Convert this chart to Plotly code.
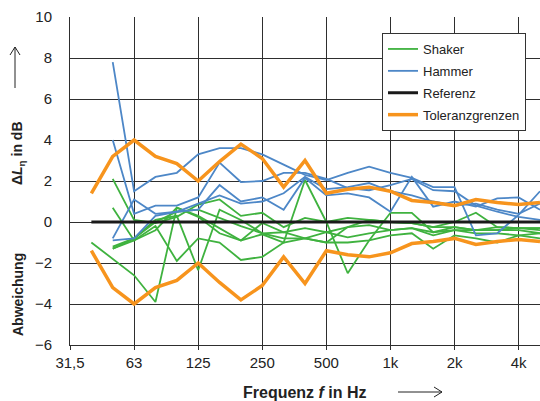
import plotly.graph_objects as go

# Third-octave band centre frequencies (category axis)
freqs = ["31,5", "40", "50", "63", "80", "100", "125", "160", "200", "250", "315", "400",
         "500", "630", "800", "1k", "1,25k", "1,6k", "2k", "2,5k", "3,15k", "4k", "5k"]
tick_labels = ["31,5", "63", "125", "250", "500", "1k", "2k", "4k"]

# Shaker curves (dB)
shaker_1 = [None, -1.0, -1.8, -2.6, -3.9, 0.7, 0.3, -0.3, -0.9, -0.6, -1.0, 2.05, 0.0, -2.5, -0.9, 0.45, 0.45, -0.5, -0.4, -0.4, -0.25, -0.3, -0.3]
shaker_2 = [None, None, 2.1, 0.1, -0.05, 0.25, 0.85, 1.1, 0.3, 0.45, -0.25, 0.2, 0.0, 0.2, 0.1, 0.0, -0.05, -0.25, 0.0, 0.45, -0.25, -0.3, -0.3]
shaker_3 = [None, None, 0.7, -0.9, -0.4, 0.7, 0.25, -0.55, -0.9, -0.05, -0.5, -0.3, -0.5, -0.25, -0.15, -0.4, -0.3, -0.5, -0.25, -0.4, -0.4, -0.4, -0.55]
shaker_4 = [None, None, -1.3, -0.9, -0.2, -1.9, -0.8, -1.0, -1.85, -1.7, -1.0, -0.8, -1.0, -1.0, -0.9, -0.65, -0.55, -1.3, -0.65, -0.8, -1.0, -0.65, -0.8]
shaker_5 = [None, None, -1.2, -0.8, 0.1, 0.3, -2.35, 0.6, 0.1, -0.55, -0.5, -0.8, -0.5, -0.75, -0.55, -0.4, -0.3, -0.65, -0.4, -0.55, -0.55, -0.65, -0.55]
shaker_6 = [None, None, -1.3, -0.8, 0.0, 0.5, 0.6, 0.2, -0.2, -0.55, -0.8, -0.8, -1.0, -0.25, 0.1, 0.0, -0.05, -0.25, -0.25, -0.4, -0.4, -0.3, -0.4]

# Hammer curves (dB)
hammer_1 = [None, None, 7.8, 1.5, 2.2, 2.4, 3.3, 3.6, 3.6, 3.3, 2.8, 2.3, 2.05, 2.4, 2.7, 2.4, 2.15, 1.7, 1.7, -0.65, -0.55, 0.35, 1.5]
hammer_2 = [None, None, 4.0, 0.4, 0.8, 0.8, 1.2, 2.9, 1.95, 2.0, 2.4, 2.4, 2.1, 1.65, 1.55, 1.8, 2.1, 1.55, 1.5, 0.8, 0.5, 0.25, 0.1]
hammer_3 = [None, None, -0.9, -0.8, 0.3, 0.5, 0.6, 1.8, 1.0, 1.2, 0.6, 2.15, 1.3, 1.4, 1.2, 0.5, 2.2, 0.75, 1.0, 0.75, 1.15, 1.2, 0.6]
hammer_4 = [None, None, -0.8, 1.1, 0.4, 0.5, 0.9, 1.3, 0.9, 1.0, 1.4, 2.2, 1.6, 1.7, 1.9, 1.5, 1.3, 1.0, 0.8, 0.9, 0.6, 0.4, 0.9]

# Reference and tolerance limits (dB)
reference = [None] + [0.0] * 22
tolerance = [None, 1.4, 3.2, 4.0, 3.2, 2.85, 2.0, 2.95, 3.8, 3.1, 1.7, 3.0, 1.4, 1.6, 1.7, 1.5,
             1.05, 0.95, 0.8, 1.1, 0.95, 0.85, 0.95]
tol_upper = tolerance
tol_lower = [None if v is None else -v for v in tolerance]

GREEN = "#3fb23f"
BLUE = "#4d87c7"
BLACK = "#1a1a1a"
ORANGE = "#f7941d"

fig = go.Figure()

def add(series, name, color, width, show):
    fig.add_trace(go.Scatter(x=freqs, y=series, mode="lines", name=name, legendgroup=name,
                             showlegend=show, line=dict(color=color, width=width),
                             connectgaps=False, hoverinfo="skip"))

for i, s in enumerate([shaker_1, shaker_2, shaker_3, shaker_4, shaker_5, shaker_6]):
    add(s, "Shaker", GREEN, 1.8, i == 0)
for i, s in enumerate([hammer_1, hammer_2, hammer_3, hammer_4]):
    add(s, "Hammer", BLUE, 1.8, i == 0)
add(reference, "Referenz", BLACK, 3, True)
add(tol_upper, "Toleranzgrenzen", ORANGE, 3.5, True)
add(tol_lower, "Toleranzgrenzen", ORANGE, 3.5, False)

W, H = 540, 401
L, R, T, B = 70, 0, 17, 56
PW, PH = W - L - R, H - T - B

def px(xp):
    return (xp - L) / PW

def py(yp):
    return (H - B - yp) / PH

FONT = "Liberation Sans, Arial, sans-serif"
TXT = "#222222"
GRID = "#2e2e2e"

fig.update_layout(
    width=W, height=H,
    margin=dict(l=L, r=R, t=T, b=B, pad=0),
    paper_bgcolor="white", plot_bgcolor="white",
    font=dict(family=FONT, size=15, color=TXT),
    xaxis=dict(type="category", categoryorder="array", categoryarray=freqs,
               range=[0, len(freqs) - 1], tickmode="array", tickvals=tick_labels,
               ticktext=tick_labels, showgrid=True, gridcolor=GRID, gridwidth=1,
               showline=True, linecolor=GRID, linewidth=1, ticks="outside",
               ticklen=4, tickcolor=GRID, zeroline=False,
               tickfont=dict(size=15, color=TXT), fixedrange=True),
    yaxis=dict(range=[-6, 10], dtick=2, tick0=-6, showgrid=True, gridcolor=GRID,
               gridwidth=1, showline=True, linecolor=GRID, linewidth=1,
               zeroline=False, ticks="", ticklabelstandoff=14,
               tickfont=dict(size=15, color=TXT), fixedrange=True),
    legend=dict(x=px(382), y=py(33), xanchor="left", yanchor="top",
                bgcolor="white", bordercolor="#333333", borderwidth=1,
                font=dict(size=13, color=TXT), tracegroupgap=2,
                itemwidth=30),
    showlegend=True,
)

# Axis titles
fig.add_annotation(text="<b>Frequenz <i>f</i> in Hz</b>", x=px(305), y=py(392),
                   xref="paper", yref="paper", showarrow=False,
                   font=dict(size=16, color=TXT), xanchor="center", yanchor="middle")
fig.add_annotation(text="<b>Abweichung</b>", x=px(18), y=py(295), xref="paper", yref="paper",
                   showarrow=False, textangle=-90, font=dict(size=14, color=TXT),
                   xanchor="center", yanchor="middle")
fig.add_annotation(text="<b>Δ<i>L</i><sub>η</sub> in dB</b>", x=px(18), y=py(153),
                   xref="paper", yref="paper", showarrow=False, textangle=-90,
                   font=dict(size=14, color=TXT), xanchor="center", yanchor="middle")

# Arrows (open heads)
arrow_line = dict(color=TXT, width=1)
shapes = [
    # x arrow
    dict(type="line", xref="paper", yref="paper", x0=px(398), x1=px(442), y0=py(392), y1=py(392), line=arrow_line),
    dict(type="line", xref="paper", yref="paper", x0=px(434), x1=px(442), y0=py(387), y1=py(392), line=arrow_line),
    dict(type="line", xref="paper", yref="paper", x0=px(434), x1=px(442), y0=py(397), y1=py(392), line=arrow_line),
    # y arrow
    dict(type="line", xref="paper", yref="paper", x0=px(15), x1=px(15), y0=py(88), y1=py(47), line=arrow_line),
    dict(type="line", xref="paper", yref="paper", x0=px(10), x1=px(15), y0=py(55), y1=py(47), line=arrow_line),
    dict(type="line", xref="paper", yref="paper", x0=px(20), x1=px(15), y0=py(55), y1=py(47), line=arrow_line),
]
fig.update_layout(shapes=shapes)

fig.write_html("out.html")
